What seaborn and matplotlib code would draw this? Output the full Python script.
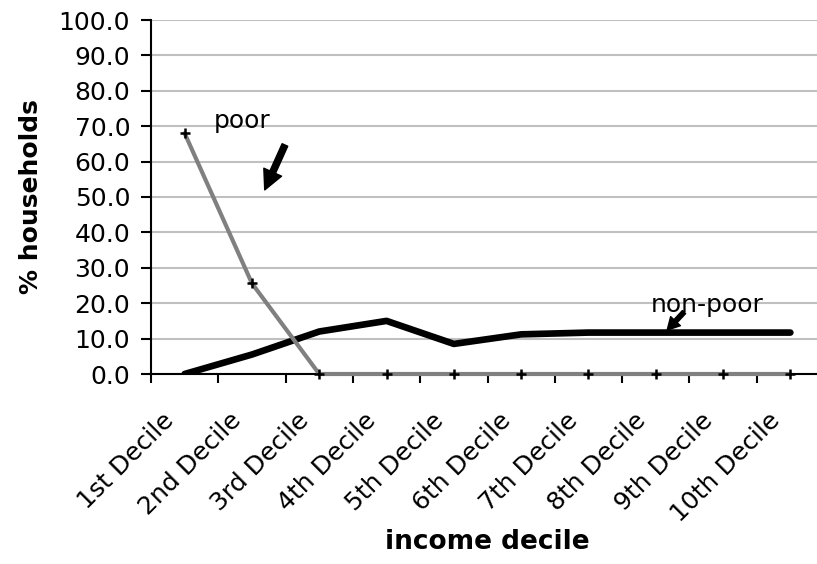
import numpy as np
import pandas as pd
import seaborn as sns
import matplotlib.pyplot as plt
from matplotlib.transforms import ScaledTranslation

# dati
deciles = ["1st Decile", "2nd Decile", "3rd Decile", "4th Decile", "5th Decile",
           "6th Decile", "7th Decile", "8th Decile", "9th Decile", "10th Decile"]
poor = [68.0, 25.6, 0.0, 0.0, 0.0, 0.0, 0.0, 0.0, 0.0, 0.0]
non_poor = [0.0, 5.5, 12.0, 15.0, 8.5, 11.2, 11.7, 11.7, 11.7, 11.7]
y_ticks = np.arange(0, 101, 10)

df = pd.DataFrame({
    "pos": np.arange(len(deciles)),
    "decile": deciles,
    "poor": poor,
    "non-poor": non_poor
})

sns.set_style("white")
plt.rcParams['font.family'] = ['DejaVu Sans']
plt.rcParams['text.color'] = 'black'
plt.rcParams['axes.labelcolor'] = 'black'
plt.rcParams['xtick.color'] = 'black'
plt.rcParams['ytick.color'] = 'black'

fig = plt.figure(figsize=(8.17, 5.64), dpi=100)
ax = fig.add_axes([151/817, 1 - 374/564, 673/817, 354/564])

# linea nera (non-poor) e grigia (poor)
sns.lineplot(data=df, x="pos", y="non-poor", color="black", lw=4.8, ax=ax,
             sort=False, zorder=4)
sns.lineplot(data=df, x="pos", y="poor", color="#808080", lw=3, marker="+",
             markersize=7, markeredgecolor="black", markeredgewidth=1.8,
             ax=ax, sort=False, zorder=5, clip_on=False)

ax.set_xlim(-0.5, len(deciles) - 0.5)
ax.set_ylim(0, 100)

# tick maggiori ai bordi delle categorie, etichette al centro
ax.set_xticks(np.arange(-0.5, len(deciles), 1))
ax.set_xticklabels([])
ax.set_xticks(np.arange(len(deciles)), minor=True)
ax.set_xticklabels(deciles, minor=True, rotation=45, ha="right", va="center",
                   rotation_mode="anchor", fontsize=18)
ax.tick_params(axis="x", which="major", length=6.5, width=1.5, direction="out",
               color="black", bottom=True)
ax.tick_params(axis="x", which="minor", length=0, pad=31, bottom=True)
for lab in ax.get_xticklabels(minor=True):
    lab.set_transform(lab.get_transform() + ScaledTranslation(-14/100, 0, fig.dpi_scale_trans))

ax.set_yticks(y_ticks)
ax.set_yticklabels([f"{v:.1f}" for v in y_ticks])
ax.tick_params(axis="y", length=7, width=1.5, direction="out", pad=8,
               labelsize=18, left=True, color="black")

ax.yaxis.grid(True, color="#c0c0c0", lw=1.5)
ax.xaxis.grid(False)
ax.set_axisbelow(True)

for s in ["top", "right"]:
    ax.spines[s].set_visible(False)
for s in ["left", "bottom"]:
    ax.spines[s].set_color("black")
    ax.spines[s].set_linewidth(1.5)

ax.set_ylabel("% households", fontsize=18, fontweight="bold")
ax.yaxis.set_label_coords(-0.16, 0.5)
ax.set_xlabel("income decile", fontsize=19, fontweight="bold")
ax.xaxis.set_label_coords(0.5, -0.438)

# etichette con frecce
ax.text(0.85, 69.5, "poor", fontsize=18, ha="center", va="baseline")
ax.annotate("", xy=(1.19, 52), xytext=(1.49, 64.7),
            arrowprops=dict(arrowstyle="simple,head_width=0.7,head_length=0.7,tail_width=0.22",
                            color="black", mutation_scale=20, shrinkA=0, shrinkB=0))
ax.text(7.76, 17.5, "non-poor", fontsize=18, ha="center", va="baseline")
ax.annotate("", xy=(7.17, 12.4), xytext=(7.42, 17.5),
            arrowprops=dict(arrowstyle="simple,head_width=0.6,head_length=0.55,tail_width=0.2",
                            color="black", mutation_scale=16, shrinkA=0, shrinkB=0))

plt.savefig("out.png", dpi=100)
